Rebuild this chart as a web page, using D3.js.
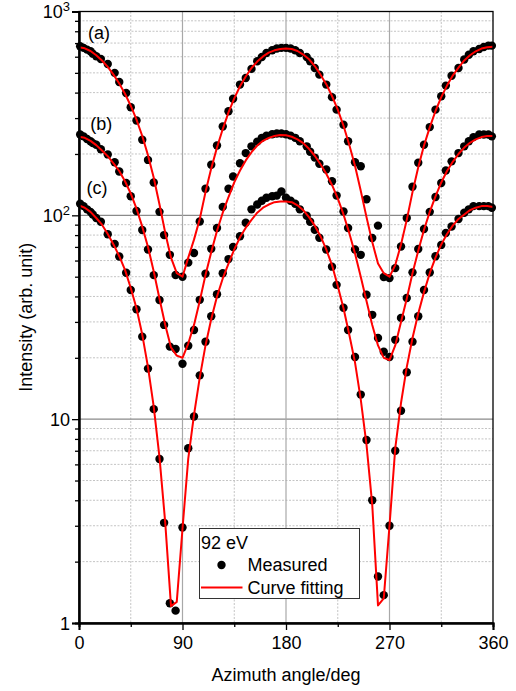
<!DOCTYPE html>
<html>
<head>
<meta charset="utf-8">
<script src="https://cdn.jsdelivr.net/npm/d3@7"></script>
<style>
  html, body { margin: 0; padding: 0; background: #fff; }
  svg { display: block; font-family: "Liberation Sans", Arial, sans-serif; }
</style>
</head>
<body>
<svg id="chart" width="516" height="691"></svg>
<script>
// ---------------- data ----------------
const xTicks = [0, 90, 180, 270, 360];
const xMinorTicks = [45, 135, 225, 315];
const yTicks = [1, 10, 100, 1000];
const yTickLabels = ["1", "10", "10^2", "10^3"];
const yMinorTicks = [2,3,4,5,6,7,8,9,20,30,40,50,60,70,80,90,200,300,400,500,600,700,800,900];
const seriesLabels = ["(a)", "(b)", "(c)"];
const legendTitle = "92 eV";
const legendItems = ["Measured", "Curve fitting"];
const xTitle = "Azimuth angle/deg";
const yTitle = "Intensity (arb. unit)";

// measured azimuth angles (deg)
const angles = [1, 4, 7, 10, 12, 15, 19, 25, 31, 35,
  41, 45, 50, 55, 60, 65, 70, 74, 79, 84,
  90, 95, 100, 105, 110, 115, 120, 125, 130, 134,
  140, 145, 150, 155, 159, 163, 168, 172, 176, 180,
  184, 188, 192, 198, 201, 205, 209, 215, 220, 224,
  230, 234, 240, 245, 250, 255, 260, 265, 270, 275,
  280, 285, 290, 295, 300, 305, 310, 315, 319, 324,
  330, 335, 339, 343, 348, 352, 356, 359];

const measuredA = [675, 663, 650, 638, 621, 603, 585, 553, 500, 451,
  398, 339, 292, 235, 187, 145, 104, 80, 64, 51,
  50, 58.6, 65.3, 93.3, 135, 177, 220, 273, 324, 373,
  438, 472, 523, 570, 598, 626, 645, 658, 663, 663,
  658, 645, 626, 598, 570, 528, 490, 438, 380, 330,
  278, 231, 182, 174, 120, 77.4, 89, 49.8, 49.2, 55.1,
  70.3, 97, 138, 181, 222, 271, 330, 384, 433, 484,
  528, 581, 614, 638, 655, 670, 680, 680];

const measuredB = [249, 244, 237, 231, 226, 222, 211, 199, 182, 164,
  144, 124, 105, 84.7, 68, 50.9, 38.4, 29, 22.7, 22.1,
  18.7, 22.9, 27.4, 38.5, 51.7, 68.5, 86.7, 110, 135, 155,
  180, 202, 218, 230, 240, 246, 250, 252, 252, 250,
  246, 240, 231, 218, 205, 192, 179, 168, 147, 125,
  104.5, 86.7, 68, 64, 40.8, 32.5, 25, 21.4, 20.2, 24.5,
  31.4, 39.3, 52.5, 68.4, 85.7, 104, 123, 144, 166, 184,
  202, 218, 231, 242, 249, 249, 249, 244];

const measuredC = [114, 111, 107, 104, 101, 97, 93, 80.7, 72.4, 62.8,
  52.3, 43, 34.6, 25.4, 17.7, 11.2, 6.38, 3.1, 1.25, 1.15,
  2.94, 7.2, 10.3, 16.4, 24, 32, 41, 52, 61, 70,
  79, 92, 107, 113, 118, 122, 124, 125, 131, 122,
  118, 114, 107, 99.6, 93, 85, 77.6, 68, 56, 45.6,
  35.2, 27.4, 20.2, 13.2, 7.9, 4.0, 1.69, 1.37, 3.0, 7.0,
  11, 17, 24, 32, 43, 52.4, 63, 71.6, 81.9, 88.2,
  95.9, 103, 107, 111, 111, 111, 111, 109];

// fitted curve nodes
const fitAngles = [0, 5, 10, 15, 20, 25, 30, 35, 40, 45,
  50, 55, 60, 65, 70, 75, 80, 85, 90, 95,
  100, 105, 110, 115, 120, 125, 130, 135, 140, 145,
  150, 155, 160, 165, 170, 175, 180, 185, 190, 195,
  200, 205, 210, 215, 220, 225, 230, 235, 240, 245,
  250, 255, 260, 265, 270, 275, 280, 285, 290, 295,
  300, 305, 310, 315, 320, 325, 330, 335, 340, 345,
  350, 355, 360];

const fitA = [668, 660, 640, 610, 575, 535, 490, 443, 395, 345,
  295, 245, 197, 153, 113, 82, 62, 52, 50, 62,
  76, 96, 130, 170, 215, 265, 320, 375, 430, 480,
  528, 568, 602, 628, 645, 655, 658, 655, 640, 615,
  583, 540, 490, 440, 385, 330, 275, 222, 175, 132,
  98, 74, 58, 52, 50, 57, 72, 95, 130, 172,
  220, 270, 325, 380, 433, 485, 530, 575, 610, 638,
  658, 668, 672];

const fitB = [243, 240, 232, 221, 208, 195, 180, 165, 147, 128,
  108, 88, 70, 53, 39, 29, 22.5, 20.5, 20, 23.5,
  29, 38, 51, 66, 84, 103, 123, 145, 166, 186,
  204, 220, 232, 240, 245, 248, 247, 243, 236, 226,
  212, 196, 178, 160, 141, 121, 101, 82, 65, 50,
  38, 29, 23, 20, 19.5, 23, 30, 39, 52, 67,
  85, 104, 124, 145, 165, 183, 200, 215, 227, 236,
  242, 245, 245];

const fitC = [112, 109, 104, 97, 90, 81, 72, 63, 54, 44,
  35, 26, 18, 11.5, 6.5, 3.1, 1.21, 1.27, 2.9, 6.4,
  10.5, 16, 23, 31, 40, 49, 58, 68, 78, 87,
  95, 103, 109, 113, 116, 117, 117, 116, 112, 106,
  98, 89, 79, 68, 57, 45, 35, 26, 19, 12.5,
  7.5, 3.8, 1.22, 1.32, 3.0, 7.2, 12, 18, 25, 33,
  42, 52, 62, 72, 81, 89, 96, 101, 106, 109,
  111, 111, 110];

// ---------------- layout ----------------
const svg = d3.select("#chart");
const margin = { left: 79, top: 11.5, right: 23, bottom: 68 };
const W = 516 - margin.left - margin.right;   // 414
const H = 691 - margin.top - margin.bottom;   // 611.5

const x = d3.scaleLinear().domain([0, 360]).range([0, W]);
const y = d3.scaleLog().domain([1, 1000]).range([H, 0]);

const g = svg.append("g").attr("transform", `translate(${margin.left},${margin.top})`);

// minor grid (dotted)
g.append("g").selectAll("line").data(yMinorTicks).join("line")
  .attr("x1", 0).attr("x2", W)
  .attr("y1", d => y(d)).attr("y2", d => y(d))
  .attr("stroke", "#c4c4c4").attr("stroke-width", 1).attr("stroke-dasharray", "2,1.5");
g.append("g").selectAll("line").data(xMinorTicks).join("line")
  .attr("y1", 0).attr("y2", H)
  .attr("x1", d => x(d)).attr("x2", d => x(d))
  .attr("stroke", "#c4c4c4").attr("stroke-width", 1).attr("stroke-dasharray", "2,1.5");

// major grid (solid)
g.append("g").selectAll("line").data([10, 100]).join("line")
  .attr("x1", 0).attr("x2", W)
  .attr("y1", d => y(d)).attr("y2", d => y(d))
  .attr("stroke", "#8a8a8a").attr("stroke-width", 1.2);
g.append("g").selectAll("line").data([90, 180, 270]).join("line")
  .attr("y1", 0).attr("y2", H)
  .attr("x1", d => x(d)).attr("x2", d => x(d))
  .attr("stroke", "#a8a8a8").attr("stroke-width", 1.2);

// measured points
const series = [
  { label: seriesLabels[0], meas: measuredA, fit: fitA },
  { label: seriesLabels[1], meas: measuredB, fit: fitB },
  { label: seriesLabels[2], meas: measuredC, fit: fitC }
];

series.forEach(s => {
  g.append("g").selectAll("circle").data(angles.map((a, i) => [a, s.meas[i]])).join("circle")
    .attr("cx", d => x(d[0])).attr("cy", d => y(d[1]))
    .attr("r", 4.2).attr("fill", "#000");
});

const line = d3.line().x(d => x(d[0])).y(d => y(d[1])).curve(d3.curveLinear);
series.forEach(s => {
  g.append("path").datum(fitAngles.map((a, i) => [a, s.fit[i]]))
    .attr("d", line).attr("fill", "none")
    .attr("stroke", "#ff0000").attr("stroke-width", 2).attr("stroke-linejoin", "round");
});

// frame (top/right)
g.append("rect").attr("x", 0).attr("y", 0).attr("width", W).attr("height", H)
  .attr("fill", "none").attr("stroke", "#000").attr("stroke-width", 1.3);

// axes
const fontSize = 18;
const xAxis = g.append("g").attr("transform", `translate(0,${H})`)
  .call(d3.axisBottom(x).tickValues(xTicks).tickSize(7).tickPadding(6).tickFormat(d3.format("d")));
g.append("g").attr("transform", `translate(0,${H})`)
  .call(d3.axisBottom(x).tickValues(xMinorTicks).tickSize(4).tickFormat(""));
const yAxis = g.append("g")
  .call(d3.axisLeft(y).tickValues(yTicks).tickSize(7).tickPadding(6).tickFormat(""));
g.append("g")
  .call(d3.axisLeft(y).tickValues(yMinorTicks).tickSize(4).tickFormat(""));

g.selectAll(".domain").attr("stroke", "#000").attr("stroke-width", 2);
g.selectAll(".tick line").attr("stroke", "#000").attr("stroke-width", 1.3);
xAxis.selectAll("text").attr("font-size", fontSize).attr("fill", "#000")
  .attr("font-family", '"Liberation Sans", Arial, sans-serif');

// y tick labels with superscripts
yAxis.selectAll(".tick").each(function(d, i) {
  const t = d3.select(this).append("text")
    .attr("x", -9).attr("dy", "0.36em").attr("text-anchor", "end")
    .attr("fill", "#000").attr("font-size", fontSize)
    .attr("font-family", '"Liberation Sans", Arial, sans-serif');
  const lab = yTickLabels[yTicks.indexOf(d)];
  const parts = lab.split("^");
  t.append("tspan").text(parts[0]);
  if (parts[1]) {
    t.append("tspan").attr("font-size", 13).attr("dy", "-0.55em").text(parts[1]);
  }
});

// axis titles
svg.append("text").attr("x", margin.left + W / 2).attr("y", 681)
  .attr("text-anchor", "middle").attr("font-size", fontSize).attr("fill", "#000")
  .text(xTitle);
svg.append("text")
  .attr("transform", `translate(32,${margin.top + H / 2}) rotate(-90)`)
  .attr("text-anchor", "middle").attr("font-size", fontSize).attr("fill", "#000")
  .text(yTitle);

// series labels
const labelPos = [[0.022, 38.5], [0.027, 130], [0.018, 194]];
seriesLabels.forEach((lab, i) => {
  svg.append("text").attr("x", margin.left + labelPos[i][0] * W).attr("y", labelPos[i][1])
    .attr("font-size", fontSize).attr("fill", "#000").text(lab);
});

// legend
const lg = svg.append("g").attr("transform", "translate(199.5,528.5)");
lg.append("rect").attr("width", 160).attr("height", 70)
  .attr("fill", "#fff").attr("stroke", "#333").attr("stroke-width", 1);
lg.append("text").attr("x", 1.5).attr("y", 20).attr("font-size", fontSize).attr("fill", "#000")
  .text(legendTitle);
lg.append("circle").attr("cx", 22).attr("cy", 36.5).attr("r", 4.2).attr("fill", "#000");
lg.append("text").attr("x", 48).attr("y", 42.5).attr("font-size", fontSize).attr("fill", "#000")
  .text(legendItems[0]);
lg.append("line").attr("x1", 1.5).attr("x2", 43).attr("y1", 59).attr("y2", 59)
  .attr("stroke", "#ff0000").attr("stroke-width", 2);
lg.append("text").attr("x", 48).attr("y", 65).attr("font-size", fontSize).attr("fill", "#000")
  .text(legendItems[1]);
</script>
</body>
</html>
